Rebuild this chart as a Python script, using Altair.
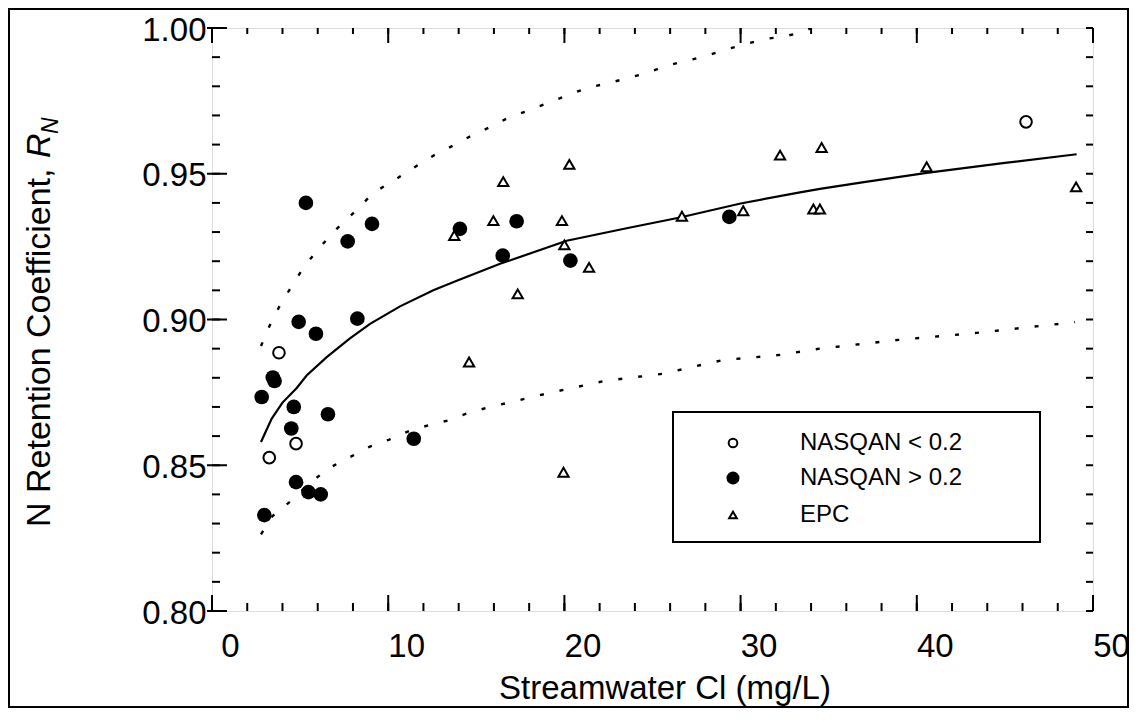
import altair as alt
import pandas as pd

FONT = "Liberation Sans"

# ---------------- data ----------------
# NASQAN < 0.2 (open circles)
lt_x = [3.25, 3.80, 4.77, 46.20]
lt_y = [0.8526, 0.8886, 0.8574, 0.9678]

# NASQAN > 0.2 (filled circles)
gt_x = [5.33, 9.08, 7.70, 4.92, 5.90, 8.25, 3.45, 3.55, 2.82, 4.64, 6.58,
        4.50, 11.45, 4.77, 5.47, 6.17, 2.97, 14.07, 16.50, 17.29, 20.34, 29.36]
gt_y = [0.9400, 0.9328, 0.9268, 0.8992, 0.8951, 0.9003, 0.8801, 0.8789, 0.8734, 0.8700, 0.8675,
        0.8626, 0.8591, 0.8442, 0.8408, 0.8400, 0.8329, 0.9311, 0.9219, 0.9337, 0.9202, 0.9352]

# EPC (open triangles)
epc_x = [13.75, 15.97, 14.59, 16.53, 20.28, 19.86, 20.00, 21.40, 17.35, 19.95,
         26.67, 30.15, 32.24, 34.60, 34.13, 34.50, 40.56, 49.04]
epc_y = [0.9288, 0.9339, 0.8854, 0.9473, 0.9532, 0.9339, 0.9256, 0.9179, 0.9088, 0.8476,
         0.9354, 0.9373, 0.9564, 0.9590, 0.9379, 0.9379, 0.9524, 0.9455]

# fitted curve (solid)
fit_x = [2.78, 3.39, 4.00, 4.81, 5.37, 6.51, 7.83, 8.97, 10.67, 12.56, 13.89,
         16.35, 20.13, 23.53, 26.56, 30.00, 33.37, 34.50, 37.00, 40.56, 45.00, 49.07]
fit_y = [0.8580, 0.8660, 0.8715, 0.8765, 0.8808, 0.8871, 0.8935, 0.8985, 0.9045, 0.9100, 0.9133,
         0.9191, 0.9270, 0.9313, 0.9350, 0.9398, 0.9436, 0.9448, 0.9471, 0.9503, 0.9537, 0.9567]

# upper band (dotted)
up_x = [2.78, 3.25, 3.80, 4.47, 5.18, 6.03, 7.08, 8.08, 9.15, 10.29, 11.43, 12.56, 13.66, 14.80,
        15.93, 16.87, 18.01, 19.09, 20.22, 21.32, 22.43, 23.54, 24.63, 25.77, 26.88, 28.00,
        29.10, 30.25, 31.33, 32.43, 33.56, 34.00]
up_y = [0.8909, 0.8976, 0.9042, 0.9109, 0.9177, 0.9242, 0.9311, 0.9368, 0.9434, 0.9476, 0.9520,
        0.9562, 0.9596, 0.9633, 0.9664, 0.9694, 0.9718, 0.9744, 0.9770, 0.9795, 0.9810, 0.9827,
        0.9845, 0.9870, 0.9887, 0.9903, 0.9925, 0.9944, 0.9962, 0.9970, 0.9987, 1.0000]

# lower band (dotted)
lo_x = [2.78, 3.44, 4.61, 5.56, 6.70, 7.83, 8.93, 10.06, 11.20, 12.28, 13.41, 14.51, 15.60,
        18.93, 22.26, 25.61, 28.92, 32.29, 34.50, 38.95, 43.40, 48.98]
lo_y = [0.8263, 0.8326, 0.8384, 0.8440, 0.8492, 0.8528, 0.8563, 0.8588, 0.8618, 0.8637, 0.8654,
        0.8679, 0.8697, 0.8745, 0.8789, 0.8814, 0.8860, 0.8879, 0.8900, 0.8930, 0.8954, 0.8991]

# axes
x_labels = [0, 10, 20, 30, 40, 50]
x_minor = [0, 2, 4, 6, 8, 10, 12, 14, 16, 18, 20, 22, 24, 26, 28, 30, 32, 34, 36, 38, 40,
           42, 44, 46, 48, 50]
y_labels = [0.80, 0.85, 0.90, 0.95, 1.00]
y_minor = [0.80, 0.81, 0.82, 0.83, 0.84, 0.85, 0.86, 0.87, 0.88, 0.89, 0.90, 0.91, 0.92,
           0.93, 0.94, 0.95, 0.96, 0.97, 0.98, 0.99, 1.00]

legend_labels = ["NASQAN < 0.2", "NASQAN > 0.2", "EPC"]
x_title = "Streamwater Cl (mg/L)"
y_title_main = "N Retention Coefficient, "
y_title_sym = "R"
y_title_sub = "N"

# ---------------- chart ----------------
W, H = 881, 583
xs = alt.Scale(domain=[0, 50], nice=False, zero=False)
ys = alt.Scale(domain=[0.80, 1.00], nice=False, zero=False)
one = pd.DataFrame({"a": [0]})


def df_xy(x, y):
    return pd.DataFrame({"x": x, "y": y})


x_axis = alt.Axis(values=x_labels, title=None, grid=False, domain=False, ticks=False, tickSize=0,
                  labelFont=FONT, labelFontSize=33, labelColor="black", labelPadding=19,
                  labelOffset=18, labelFlush=False, labelOverlap=False)
y_axis = alt.Axis(values=y_labels, format=".2f", title=None, grid=False, domain=False, ticks=False,
                  tickSize=0, labelFont=FONT, labelFontSize=33, labelColor="black",
                  labelPadding=6, labelOffset=2, labelFlush=False, labelOverlap=False)


def X(field):
    return alt.X(field, scale=xs, axis=x_axis)


def Y(field):
    return alt.Y(field, scale=ys, axis=y_axis)


fit = alt.Chart(df_xy(fit_x, fit_y)).mark_line(color="black", strokeWidth=2.2).encode(
    x=X("x:Q"), y=Y("y:Q"))


def dotted(x, y):
    return alt.Chart(df_xy(x, y)).mark_line(color="black", strokeWidth=2.4, strokeDash=[4, 16],
                                              clip=True).encode(x=X("x:Q"), y=Y("y:Q"))


def pts(x, y, shape, size, fill, stroke_w):
    kw = dict(shape=shape, size=size, filled=True, fill=fill, opacity=1, fillOpacity=1)
    if stroke_w > 0:
        kw.update(stroke="black", strokeWidth=stroke_w)
    return alt.Chart(df_xy(x, y)).mark_point(**kw).encode(x=X("x:Q"), y=Y("y:Q"))


def xrules(vals, y1, y2):
    return alt.Chart(pd.DataFrame({"x": vals})).mark_rule(color="black", strokeWidth=2).encode(
        x=X("x:Q"), y=alt.value(y1), y2=alt.value(y2))


def yrules(vals, x1, x2):
    return alt.Chart(pd.DataFrame({"y": vals})).mark_rule(color="black", strokeWidth=2).encode(
        y=Y("y:Q"), x=alt.value(x1), x2=alt.value(x2))


def txt(s, x, y, size, **kw):
    return alt.Chart(one).mark_text(font=FONT, fontSize=size, color="black", **kw).encode(
        x=alt.value(x), y=alt.value(y), text=alt.value(s))


layers = [
    fit,
    # outer figure border
    alt.Chart(one).mark_rect(fillOpacity=0, stroke="black", strokeWidth=2).encode(
        x=alt.value(-203), x2=alt.value(W + 35), y=alt.value(-19), y2=alt.value(H + 96)),
    dotted(up_x, up_y),
    dotted(lo_x, lo_y),
    pts(gt_x, gt_y, "circle", 215, "black", 0),
    pts(lt_x, lt_y, "circle", 135, "white", 2),
    pts(epc_x, epc_y, "triangle-up", 105, "white", 2),
    # ticks
    xrules(x_minor, H, H - 8),
    xrules(x_labels, H, H - 16),
    xrules(x_minor, 0, 6),
    xrules(x_labels, 0, 15),
    yrules(y_minor, 0, 8),
    yrules(y_labels, -5, 15),
    yrules(y_minor, W, W - 7),
    # legend
    alt.Chart(one).mark_rect(fill="white", stroke="black", strokeWidth=2).encode(
        x=alt.value(461), x2=alt.value(828), y=alt.value(384), y2=alt.value(514)),
    alt.Chart(one).mark_point(shape="circle", size=75, filled=True, fill="white", stroke="black",
                              strokeWidth=2, opacity=1).encode(x=alt.value(521), y=alt.value(415)),
    alt.Chart(one).mark_point(shape="circle", size=170, filled=True, fill="black",
                              opacity=1).encode(x=alt.value(521), y=alt.value(450)),
    alt.Chart(one).mark_point(shape="triangle-up", size=60, filled=True, fill="white",
                              stroke="black", strokeWidth=2, opacity=1).encode(
        x=alt.value(521), y=alt.value(487)),
    txt(legend_labels[0], 588, 415, 24, align="left", baseline="middle"),
    txt(legend_labels[1], 588, 450, 24, align="left", baseline="middle"),
    txt(legend_labels[2], 588, 487, 24, align="left", baseline="middle"),
    # axis titles
    txt(x_title, 453, 671, 33, align="center", baseline="alphabetic"),
    txt(y_title_main, -162, 499, 34, align="left", baseline="alphabetic", angle=270),
    txt(y_title_sym, -162, 130, 34, align="left", baseline="alphabetic", angle=270,
        fontStyle="italic"),
    txt(y_title_sub, -154, 106, 23, align="left", baseline="alphabetic", angle=270,
        fontStyle="italic"),
]

chart = alt.layer(*layers).properties(
    width=W, height=H,
    padding={"left": 204, "top": 20, "right": 36, "bottom": 97},
    autosize=alt.AutoSizeParams(type="none"),
).configure_view(stroke="black", strokeWidth=2).configure(font=FONT, background="white")

chart.save("out.html", embed_options={"renderer": "svg", "actions": False})
